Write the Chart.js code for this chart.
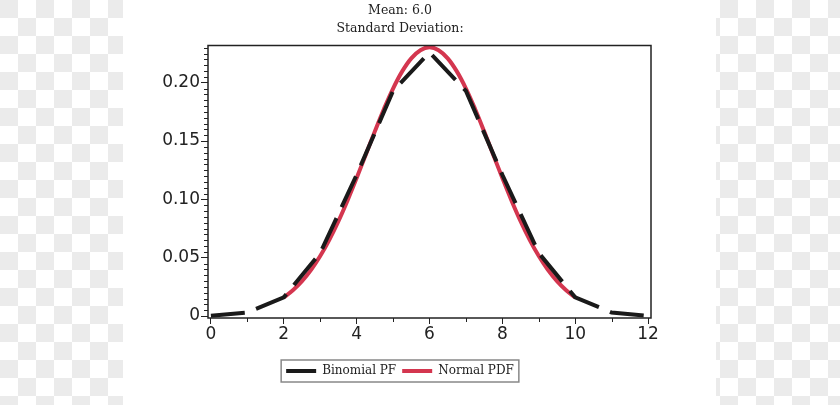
<!DOCTYPE html>
<html>
<head>
<meta charset="utf-8">
<script src="https://cdn.jsdelivr.net/npm/chart.js@4/dist/chart.umd.min.js"></script>
<style>
  html, body { margin: 0; padding: 0; }
  body {
    width: 840px; height: 405px; overflow: hidden; position: relative;
    background-color: #fff;
    background-image: conic-gradient(#ebebeb 25%, #fff 0 50%, #ebebeb 0 75%, #fff 0);
    background-size: 36px 36px;
    background-position: 18px 0;
  }
  #page { position: absolute; left: 123px; top: 0; width: 593px; height: 405px; background: #fff; }
  #wrap { position: absolute; left: 123px; top: 0; width: 560px; height: 405px; }
</style>
</head>
<body>
<div id="page"></div>
<div id="wrap"><canvas id="myChart"></canvas></div>
<script>
// binomial n=12, p=0.5
const binomX = [0, 1, 2, 3, 4, 5, 6, 7, 8, 9, 10, 11, 12];
const binomY = [0.0002, 0.003, 0.016, 0.054, 0.121, 0.193, 0.226, 0.193, 0.121, 0.054, 0.016, 0.003, 0.0002];

// normal curve, drawn from 2 to 10
const normalX = [2, 2.25, 2.5, 2.75, 3, 3.25, 3.5, 3.75, 4, 4.25, 4.5, 4.75, 5, 5.25, 5.5, 5.75, 6,
  6.25, 6.5, 6.75, 7, 7.25, 7.5, 7.75, 8, 8.25, 8.5, 8.75, 9, 9.25, 9.5, 9.75, 10];
const normalY = [0.0160, 0.0221, 0.0299, 0.0396, 0.0514, 0.0653, 0.0813, 0.0991, 0.1183, 0.1383, 0.1583, 0.1775, 0.1950, 0.2097, 0.2209, 0.2279, 0.2303,
  0.2279, 0.2209, 0.2097, 0.1950, 0.1775, 0.1583, 0.1383, 0.1183, 0.0991, 0.0813, 0.0653, 0.0514, 0.0396, 0.0299, 0.0221, 0.0160];

const xTickLabels = ['0', '2', '4', '6', '8', '10', '12'];
const yTickLabels = ['0', '0.05', '0.10', '0.15', '0.20'];
const titleLines = ['Mean: 6.0', 'Standard Deviation:'];

const SERIF = '"DejaVu Serif", serif';
const SANS = '"DejaVu Sans", sans-serif';

function isMajorY(v) { return Math.round(v * 1000) % 50 === 0; }
function isMajorX(v) { return Math.round(v) % 2 === 0; }

// frame, minor ticks and legend box
const framePlugin = {
  id: 'frame',
  afterDraw: function (chart) {
    var ctx = chart.ctx, a = chart.chartArea;
    var xs = chart.scales.x, ys = chart.scales.y;
    ctx.save();
    ctx.strokeStyle = '#222';
    ctx.lineWidth = 1.5;
    ctx.strokeRect(a.left, a.top, a.right - a.left, a.bottom - a.top);
    ctx.lineWidth = 1;
    ctx.beginPath();
    ys.ticks.forEach(function (t) {
      if (isMajorY(t.value)) return;
      var y = Math.round(ys.getPixelForValue(t.value)) + 0.5;
      ctx.moveTo(a.left - 4, y); ctx.lineTo(a.left, y);
    });
    xs.ticks.forEach(function (t) {
      if (isMajorX(t.value)) return;
      var x = Math.round(xs.getPixelForValue(t.value)) + 0.5;
      ctx.moveTo(x, a.bottom); ctx.lineTo(x, a.bottom + 4);
    });
    ctx.stroke();
    // box round the legend
    var boxes = chart.legend.legendHitBoxes;
    if (boxes && boxes.length) {
      var l = Math.min.apply(null, boxes.map(b => b.left));
      var r = Math.max.apply(null, boxes.map(b => b.left + b.width));
      var t = Math.min.apply(null, boxes.map(b => b.top));
      var h = boxes[0].height;
      ctx.strokeStyle = '#888';
      ctx.lineWidth = 1.5;
      ctx.strokeRect(l - 5, t - 5, r - l + 10, h + 10);
    }
    ctx.restore();
  }
};

var ctx = document.getElementById('myChart').getContext('2d');
var chart = new Chart(ctx, {
  type: 'line',
  data: {
    datasets: [{
      label: 'Binomial PF',
      data: binomX.map((x, i) => ({ x: x, y: binomY[i] })),
      borderColor: '#1a1a1a',
      backgroundColor: '#1a1a1a',
      borderWidth: 4,
      borderDash: [34, 12],
      pointRadius: 0,
      tension: 0,
      order: 0
    }, {
      label: 'Normal PDF',
      data: normalX.map((x, i) => ({ x: x, y: normalY[i] })),
      borderColor: '#d4364f',
      backgroundColor: '#d4364f',
      borderWidth: 4,
      pointRadius: 0,
      tension: 0.4,
      order: 1
    }]
  },
  options: {
    responsive: true,
    maintainAspectRatio: false,
    animation: false,
    layout: { padding: { left: 26, right: 32, top: 0, bottom: 18 } },
    plugins: {
      title: {
        display: true,
        text: titleLines,
        color: '#222',
        font: { family: SERIF, size: 12.5, weight: 'normal', lineHeight: 1.5 },
        padding: { top: 1, bottom: 7 }
      },
      legend: {
        position: 'bottom',
        labels: {
          color: '#222',
          font: { family: SERIF, size: 12 },
          boxWidth: 30,
          boxHeight: 4,
          padding: 6,
          generateLabels: function (chart) {
            return chart.data.datasets.map(function (ds, i) {
              return {
                text: ds.label, fillStyle: ds.borderColor, strokeStyle: ds.borderColor,
                lineWidth: 0, lineDash: [], hidden: false, datasetIndex: i, fontColor: '#222'
              };
            });
          }
        }
      },
      tooltip: { enabled: false }
    },
    scales: {
      x: {
        type: 'linear',
        min: -0.08, max: 12.08,
        border: { display: false },
        grid: {
          drawOnChartArea: false, tickLength: 6, tickWidth: 1,
          tickColor: c => isMajorX(c.tick.value) ? '#222' : 'rgba(0,0,0,0)'
        },
        ticks: {
          stepSize: 1, includeBounds: false, autoSkip: false, maxRotation: 0,
          color: '#222', font: { family: SANS, size: 17 }, padding: 0,
          callback: v => isMajorX(v) ? xTickLabels[Math.round(v) / 2] : ''
        },
        afterFit: function (s) { s.height = 41; }
      },
      y: {
        type: 'linear',
        min: -0.0017, max: 0.2319,
        border: { display: false },
        grid: {
          drawOnChartArea: false, tickLength: 7, tickWidth: 1,
          tickColor: c => isMajorY(c.tick.value) ? '#222' : 'rgba(0,0,0,0)'
        },
        ticks: {
          stepSize: 0.005, includeBounds: false, autoSkip: false,
          color: '#222', font: { family: SANS, size: 17 }, padding: 1,
          callback: v => isMajorY(v) ? yTickLabels[Math.round(v * 1000) / 50] : ''
        },
        afterFit: function (s) { s.width = 59; }
      }
    }
  },
  plugins: [framePlugin]
});
</script>
</body>
</html>
